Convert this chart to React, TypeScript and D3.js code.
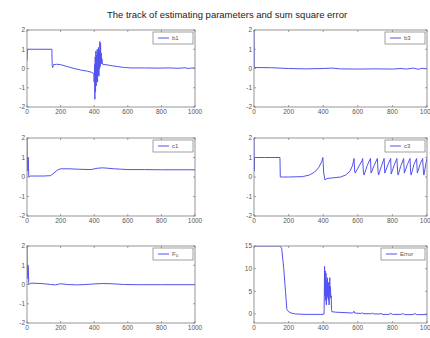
import React from "react";
import { scaleLinear, line } from "d3";

// values, [iteration, value]
const xTicks = [0, 200, 400, 600, 800, 1000];
const paramTicks = [-2, -1, 0, 1, 2];
const errTicks = [0, 5, 10, 15];

const b1 = [[0,0.4],[2,0.9],[5,1.0],[60,1.0],[148,1.0],[150,0.15],[153,0.05],[158,0.2],[175,0.22],[200,0.2],[240,0.1],[280,0.0],[320,-0.08],[360,-0.14],[385,-0.2],[395,-0.25],[398,-0.3],[400,-0.7],[402,0.2],[404,-1.6],[406,0.6],[408,-1.2],[410,0.9],[412,-0.9],[414,0.7],[416,-0.6],[418,1.0],[420,-0.7],[422,0.8],[424,-0.3],[426,1.1],[428,-0.4],[430,0.9],[432,0.0],[434,1.4],[436,0.1],[438,1.3],[440,0.3],[442,0.8],[444,0.25],[446,0.5],[448,0.3],[452,0.2],[470,0.2],[500,0.15],[540,0.1],[580,0.05],[620,0.03],[700,0.03],[780,0.02],[850,0.03],[900,0.01],[940,0.04],[960,0.0],[980,0.03],[1000,0.02]];
const b3 = [[0,2],[1,0.1],[3,0.05],[100,0.04],[200,0.0],[300,-0.02],[400,0.0],[450,0.02],[500,-0.02],[600,-0.03],[700,-0.02],[800,-0.03],[850,0.0],[880,-0.03],[920,0.02],[950,-0.04],[970,0.01],[1000,-0.02]];
const c1 = [[0,2],[1,0.3],[3,1.0],[8,1.0],[10,0.1],[12,0.0],[20,0.05],[100,0.05],[140,0.07],[160,0.2],[180,0.35],[200,0.42],[250,0.42],[300,0.4],[380,0.38],[420,0.45],[450,0.47],[480,0.45],[520,0.42],[560,0.4],[600,0.38],[700,0.38],[800,0.37],[1000,0.37]];
const c3 = [[0,2],[1,0.3],[3,1.0],[60,1.0],[150,1.0],[152,0.0],[200,0.0],[280,0.02],[320,0.1],[350,0.25],[375,0.5],[392,0.8],[398,1.0],[400,0.7],[403,0.2],[410,-0.15],[420,-0.08],[450,-0.05],[500,0.0],[530,0.1],[555,0.3],[570,0.6],[578,0.95],[582,0.3],[585,0.2],[600,0.45],[625,0.85],[628,0.95],[632,0.3],[636,0.1],[655,0.6],[670,0.9],[673,0.95],[677,0.2],[695,0.6],[713,0.95],[717,0.3],[720,0.1],[738,0.6],[752,0.95],[756,0.2],[775,0.65],[790,0.95],[793,0.15],[810,0.6],[826,0.95],[830,0.3],[833,0.1],[850,0.6],[865,0.95],[869,0.2],[887,0.65],[902,0.95],[905,0.3],[908,0.1],[925,0.65],[940,0.95],[944,0.2],[962,0.7],[975,0.95],[979,0.3],[982,0.1],[995,0.75],[1000,0.95]];
const fu = [[0,2],[1,0.3],[3,1.0],[8,0.95],[10,0.1],[12,0.0],[20,0.07],[60,0.06],[100,0.04],[140,0.0],[170,-0.02],[200,0.04],[240,0.0],[300,-0.02],[350,0.0],[400,0.03],[450,0.05],[500,0.04],[540,0.02],[580,0.0],[650,-0.01],[800,-0.01],[1000,-0.01]];
const err = [[0,15],[150,15],[160,14.5],[172,10],[182,5],[190,1],[200,0.5],[215,0.2],[240,0],[300,-0.1],[400,-0.1],[405,0],[408,10.5],[410,4],[412,9.5],[414,3],[416,9],[418,2],[420,7.5],[422,3.5],[424,8],[426,4],[428,6],[430,3],[432,7],[434,2],[436,5],[438,8],[440,4],[442,6],[444,3.5],[446,4],[448,1],[450,0.5],[470,0.4],[520,0.3],[570,0.2],[578,0.6],[582,0.2],[620,0.1],[625,0.3],[630,0.05],[680,0.05],[685,0.25],[690,0.0],[730,0.0],[735,0.2],[740,-0.1],[780,-0.1],[790,0.15],[800,-0.1],[850,-0.1],[860,0.1],[870,-0.15],[920,-0.15],[930,0.1],[940,-0.15],[1000,-0.15]];

const panels = [
  { name: "b1", data: b1, col: 0, row: 0, yDom: [-2, 2], yt: paramTicks },
  { name: "b3", data: b3, col: 1, row: 0, yDom: [-2, 2], yt: paramTicks },
  { name: "c1", data: c1, col: 0, row: 1, yDom: [-2, 2], yt: paramTicks },
  { name: "c3", data: c3, col: 1, row: 1, yDom: [-2, 2], yt: paramTicks },
  { name: "Fu", data: fu, col: 0, row: 2, yDom: [-2, 2], yt: paramTicks },
  { name: "Error", data: err, col: 1, row: 2, yDom: [-2, 15], yt: errTicks },
];

const cols = [[27, 195], [254, 427]];
const rows = [[30, 107], [138, 216], [246, 323]];

const lineColor = "#5252ee";
const axisColor = "#7a7a7a";
const tickFont = "'Liberation Sans Narrow', 'Liberation Sans', Arial, sans-serif";

function Panel({ p, i }) {
  const [x0, x1] = cols[p.col];
  const [y0, y1] = rows[p.row];
  const x = scaleLinear().domain([0, 1000]).range([x0, x1]);
  const y = scaleLinear().domain(p.yDom).range([y1, y0]);
  const path = line().x(d => x(d[0])).y(d => y(d[1]))(p.data);
  const lw = p.name === "Error" ? 44 : 40;
  const lx = x1 - lw - 2;
  const ly = y0 + 2;
  return (
    <g>
      <defs>
        <clipPath id={"clip" + i}>
          <rect x={x0} y={y0} width={x1 - x0} height={y1 - y0} />
        </clipPath>
      </defs>
      <rect x={x0} y={y0} width={x1 - x0} height={y1 - y0} fill="#fff" />
      <path d={path} fill="none" stroke={lineColor} strokeWidth={1} clipPath={`url(#clip${i})`} />
      <rect x={x0} y={y0} width={x1 - x0} height={y1 - y0} fill="none" stroke={axisColor} strokeWidth={0.8} />
      {xTicks.map(t => (
        <g key={"x" + t}>
          <line x1={x(t)} x2={x(t)} y1={y1} y2={y1 - 2} stroke={axisColor} strokeWidth={0.7} />
          <line x1={x(t)} x2={x(t)} y1={y0} y2={y0 + 2} stroke={axisColor} strokeWidth={0.7} />
          <text x={x(t)} y={y1 + 7} fontSize={6.5} textAnchor="middle" fill="#555" fontFamily={tickFont}>{t}</text>
        </g>
      ))}
      {p.yt.map(t => (
        <g key={"y" + t}>
          <line x1={x0} x2={x0 + 2} y1={y(t)} y2={y(t)} stroke={axisColor} strokeWidth={0.7} />
          <line x1={x1} x2={x1 - 2} y1={y(t)} y2={y(t)} stroke={axisColor} strokeWidth={0.7} />
          <text x={x0 - 2} y={y(t) + 2.3} fontSize={6.5} textAnchor="end" fill="#555" fontFamily={tickFont}>{t}</text>
        </g>
      ))}
      <rect x={lx} y={ly} width={lw} height={12} fill="#fff" stroke={axisColor} strokeWidth={0.7} />
      <line x1={lx + 5} x2={lx + 16} y1={ly + 6} y2={ly + 6} stroke={lineColor} strokeWidth={1} />
      <text x={lx + 19} y={ly + 8.3} fontSize={6} fill="#555" fontFamily={tickFont}>
        {p.name === "Fu" ? <>F<tspan fontSize={4.5} dy={1}>u</tspan></> : p.name}
      </text>
    </g>
  );
}

export default function App() {
  return (
    <svg width={430} height={338} style={{ position: "absolute", left: 0, top: 0, background: "#fff" }}>
      <text x={227} y={18} textAnchor="middle" fontSize={9.5} fill="#222" fontFamily="'Liberation Sans', Arial, sans-serif">
        The track of estimating parameters and sum square error
      </text>
      {panels.map((p, i) => <Panel key={p.name} p={p} i={i} />)}
    </svg>
  );
}
